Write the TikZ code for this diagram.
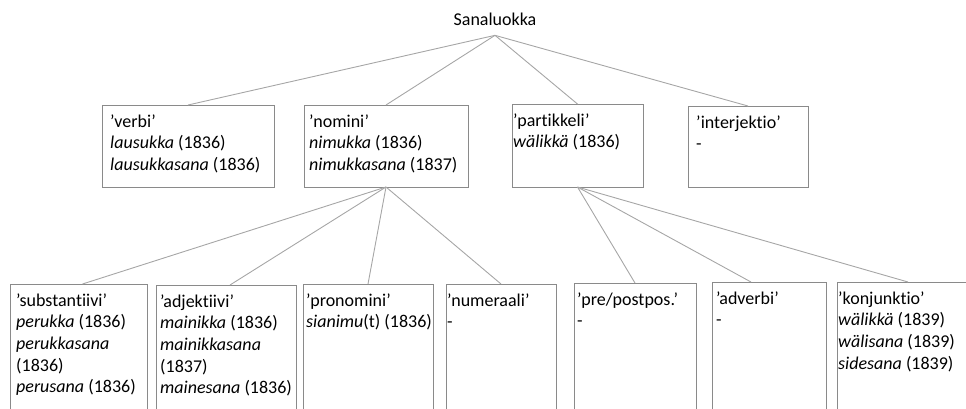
\documentclass[tikz,border=0pt]{standalone}
\usepackage{fontspec}
\setmainfont{Carlito}[Ligatures=NoCommon]
\usepackage{tikz}
\usetikzlibrary{positioning}
\definecolor{boxgray}{HTML}{8A8A8A}
\definecolor{linegray}{HTML}{A6A6A6}
\newcommand{\luokka}[7]{%
  \node[laatikko,minimum width=#4,minimum height=#5] (#1) at (#2,#3) {};
  \node[sisus] (#1-t) at ([xshift=#6pt,yshift=-9pt]#1.north west) {\rule{0pt}{13pt}#7};}

\begin{document}
\begin{tikzpicture}[x=1pt,y=-1pt,
  font=\fontsize{18}{21.6}\selectfont,
  laatikko/.style={draw=boxgray,line width=1pt,inner sep=0pt,outer sep=0pt,anchor=north west},
  sisus/.style={anchor=north west,inner sep=0pt,align=left},
  yhteys/.style={draw=linegray,line width=0.9pt}]
  \useasboundingbox (0,0) rectangle (966,408);
  \clip (0,0) rectangle (966,408);
  \node[inner xsep=0pt,inner ysep=10pt,anchor=base] (sanaluokka) at (495,25) {Sanaluokka};
  % top row
  \luokka{verbi}{102}{105}{172pt}{82pt}{8}{’verbi’\\\textit{lausukka} (1836)\\\textit{lausukkasana} (1836)}
  \luokka{nomini}{304}{105}{164pt}{82pt}{5}{’nomini’\\\textit{nimukka} (1836)\\\textit{nimukkasana} (1837)}
  \luokka{partikkeli}{512}{104}{131pt}{83pt}{1}{’partikkeli’\\\textit{wälikkä} (1836)}
  \luokka{interjektio}{688}{106}{120pt}{81pt}{8}{’interjektio’\\-}
  % bottom row
  \luokka{substantiivi}{10}{284}{137pt}{140pt}{6}{’substantiivi’\\\textit{perukka} (1836)\\\textit{perukkasana}\\(1836)\\\textit{perusana} (1836)}
  \luokka{adjektiivi}{156}{285}{140pt}{140pt}{4}{’adjektiivi’\\\textit{mainikka} (1836)\\\textit{mainikkasana}\\(1837)\\\textit{mainesana} (1836)}
  \luokka{pronomini}{303}{284}{130pt}{140pt}{3}{’pronomini’\\\textit{sianimu}(t) (1836)}
  \luokka{numeraali}{446}{284}{110pt}{140pt}{1}{’numeraali’\\-}
  \luokka{prepostpos}{574}{283}{122pt}{140pt}{3}{’pre/postpos.’\\-}
  \luokka{adverbi}{712}{282}{114pt}{140pt}{4}{’adverbi’\\-}
  \luokka{konjunktio}{837}{282}{142pt}{140pt}{1}{’konjunktio’\\\textit{wälikkä} (1839)\\\textit{wälisana} (1839)\\\textit{sidesana} (1839)}
  % connectors
  \foreach \k in {verbi,nomini,partikkeli,interjektio}
    \draw[yhteys] (sanaluokka.south) -- (\k.north);
  \foreach \k/\d in {substantiivi/4,adjektiivi/4,pronomini/0,numeraali/0}
    \draw[yhteys] (nomini.south) -- ([xshift=\d pt]\k.north);
  \foreach \k/\d in {prepostpos/0,adverbi/-18,konjunktio/0}
    \draw[yhteys] (partikkeli.south) -- ([xshift=\d pt]\k.north);
\end{tikzpicture}
\end{document}
